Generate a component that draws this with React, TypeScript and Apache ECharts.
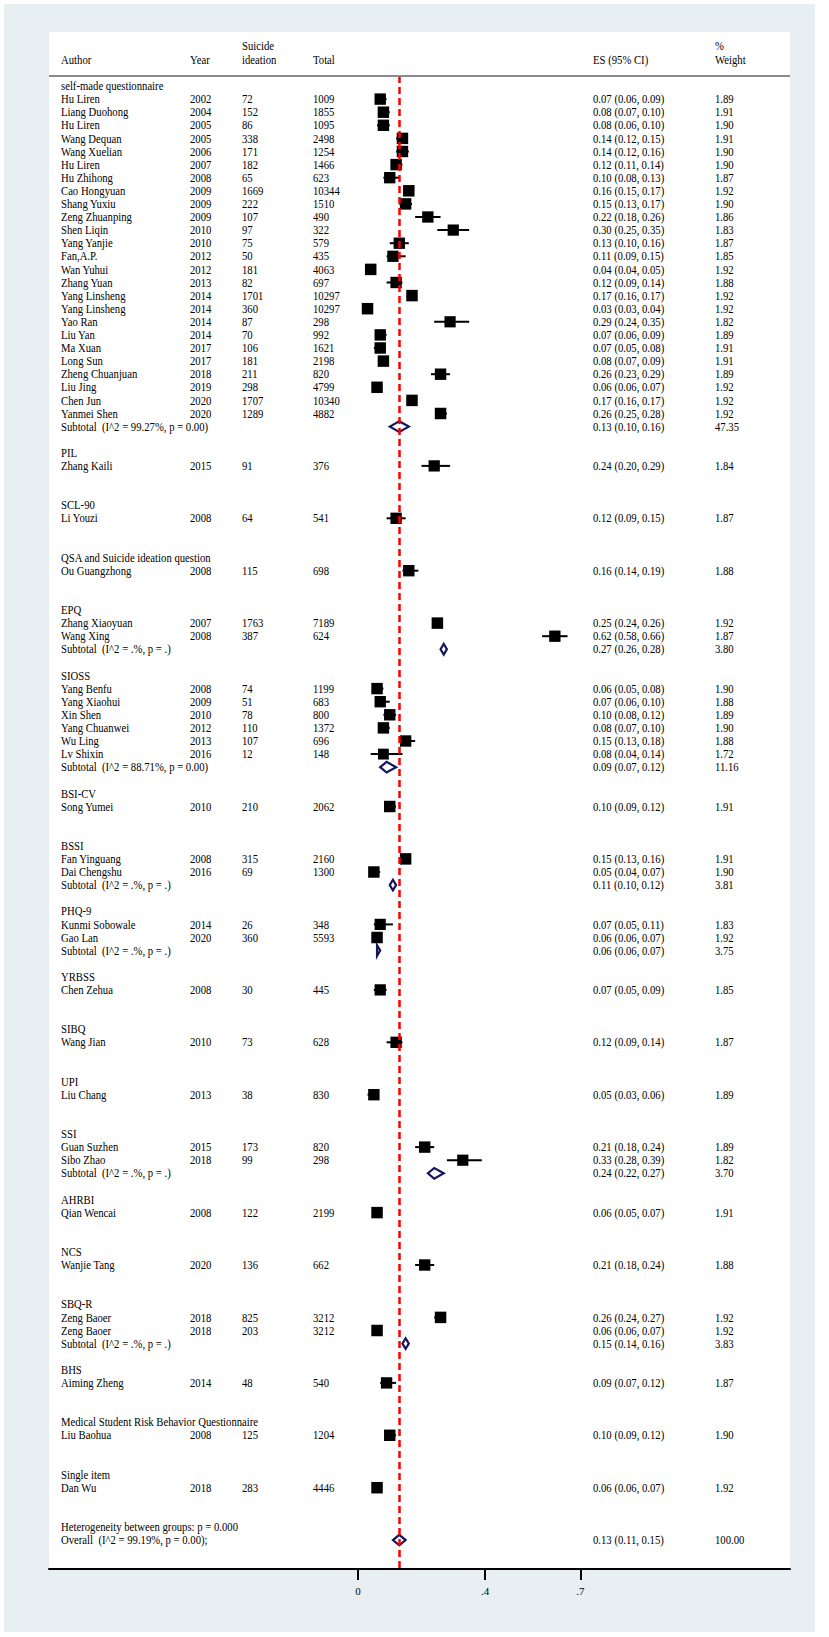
import React, { useEffect, useRef } from "react";
import * as echarts from "echarts";

const groupNames = [
  "self-made questionnaire", "PIL", "SCL-90", "QSA and Suicide ideation question", "EPQ", "SIOSS",
  "BSI-CV", "BSSI", "PHQ-9", "YRBSS", "SIBQ", "UPI", "SSI", "AHRBI", "NCS", "SBQ-R", "BHS",
  "Medical Student Risk Behavior Questionnaire", "Single item",
];

const studyGroup = [
  0, 0, 0, 0, 0, 0, 0, 0, 0, 0, 0, 0, 0, 0, 0, 0, 0, 0, 0, 0, 0, 0, 0, 0, 0,
  1, 2, 3, 4, 4, 5, 5, 5, 5, 5, 5, 6, 7, 7, 8, 8, 9, 10, 11, 12, 12, 13, 14, 15, 15, 16, 17, 18,
];

const authors = [
  "Hu Liren", "Liang Duohong", "Hu Liren", "Wang Dequan", "Wang Xuelian", "Hu Liren", "Hu Zhihong",
  "Cao Hongyuan", "Shang Yuxiu", "Zeng Zhuanping", "Shen Liqin", "Yang Yanjie", "Fan,A.P.", "Wan Yuhui",
  "Zhang Yuan", "Yang Linsheng", "Yang Linsheng", "Yao Ran", "Liu Yan", "Ma Xuan", "Long Sun",
  "Zheng Chuanjuan", "Liu Jing", "Chen Jun", "Yanmei Shen",
  "Zhang Kaili", "Li Youzi", "Ou Guangzhong", "Zhang Xiaoyuan", "Wang Xing",
  "Yang Benfu", "Yang Xiaohui", "Xin Shen", "Yang Chuanwei", "Wu Ling", "Lv Shixin",
  "Song Yumei", "Fan Yinguang", "Dai Chengshu", "Kunmi Sobowale", "Gao Lan", "Chen Zehua", "Wang Jian",
  "Liu Chang", "Guan Suzhen", "Sibo Zhao", "Qian Wencai", "Wanjie Tang", "Zeng Baoer", "Zeng Baoer",
  "Aiming Zheng", "Liu Baohua", "Dan Wu",
];

const years = [
  2002, 2004, 2005, 2005, 2006, 2007, 2008, 2009, 2009, 2009, 2010, 2010, 2012, 2012, 2013, 2014, 2014,
  2014, 2014, 2017, 2017, 2018, 2019, 2020, 2020,
  2015, 2008, 2008, 2007, 2008,
  2008, 2009, 2010, 2012, 2013, 2016,
  2010, 2008, 2016, 2014, 2020, 2008, 2010, 2013, 2015, 2018, 2008, 2020, 2018, 2018, 2014, 2008, 2018,
];

const cases = [
  72, 152, 86, 338, 171, 182, 65, 1669, 222, 107, 97, 75, 50, 181, 82, 1701, 360, 87, 70, 106, 181, 211,
  298, 1707, 1289,
  91, 64, 115, 1763, 387,
  74, 51, 78, 110, 107, 12,
  210, 315, 69, 26, 360, 30, 73, 38, 173, 99, 122, 136, 825, 203, 48, 125, 283,
];

const totals = [
  1009, 1855, 1095, 2498, 1254, 1466, 623, 10344, 1510, 490, 322, 579, 435, 4063, 697, 10297, 10297, 298,
  992, 1621, 2198, 820, 4799, 10340, 4882,
  376, 541, 698, 7189, 624,
  1199, 683, 800, 1372, 696, 148,
  2062, 2160, 1300, 348, 5593, 445, 628, 830, 820, 298, 2199, 662, 3212, 3212, 540, 1204, 4446,
];

const es = [
  0.07, 0.08, 0.08, 0.14, 0.14, 0.12, 0.10, 0.16, 0.15, 0.22, 0.30, 0.13, 0.11, 0.04, 0.12, 0.17, 0.03,
  0.29, 0.07, 0.07, 0.08, 0.26, 0.06, 0.17, 0.26,
  0.24, 0.12, 0.16, 0.25, 0.62,
  0.06, 0.07, 0.10, 0.08, 0.15, 0.08,
  0.10, 0.15, 0.05, 0.07, 0.06, 0.07, 0.12, 0.05, 0.21, 0.33, 0.06, 0.21, 0.26, 0.06, 0.09, 0.10, 0.06,
];

const lo = [
  0.06, 0.07, 0.06, 0.12, 0.12, 0.11, 0.08, 0.15, 0.13, 0.18, 0.25, 0.10, 0.09, 0.04, 0.09, 0.16, 0.03,
  0.24, 0.06, 0.05, 0.07, 0.23, 0.06, 0.16, 0.25,
  0.20, 0.09, 0.14, 0.24, 0.58,
  0.05, 0.06, 0.08, 0.07, 0.13, 0.04,
  0.09, 0.13, 0.04, 0.05, 0.06, 0.05, 0.09, 0.03, 0.18, 0.28, 0.05, 0.18, 0.24, 0.06, 0.07, 0.09, 0.06,
];

const hi = [
  0.09, 0.10, 0.10, 0.15, 0.16, 0.14, 0.13, 0.17, 0.17, 0.26, 0.35, 0.16, 0.15, 0.05, 0.14, 0.17, 0.04,
  0.35, 0.09, 0.08, 0.09, 0.29, 0.07, 0.17, 0.28,
  0.29, 0.15, 0.19, 0.26, 0.66,
  0.08, 0.10, 0.12, 0.10, 0.18, 0.14,
  0.12, 0.16, 0.07, 0.11, 0.07, 0.09, 0.14, 0.06, 0.24, 0.39, 0.07, 0.24, 0.27, 0.07, 0.12, 0.12, 0.07,
];

const weights = [
  1.89, 1.91, 1.90, 1.91, 1.90, 1.90, 1.87, 1.92, 1.90, 1.86, 1.83, 1.87, 1.85, 1.92, 1.88, 1.92, 1.92,
  1.82, 1.89, 1.91, 1.91, 1.89, 1.92, 1.92, 1.92,
  1.84, 1.87, 1.88, 1.92, 1.87,
  1.90, 1.88, 1.89, 1.90, 1.88, 1.72,
  1.91, 1.91, 1.90, 1.83, 1.92, 1.85, 1.87, 1.89, 1.89, 1.82, 1.91, 1.88, 1.92, 1.92, 1.87, 1.90, 1.92,
];

const subGroups = [0, 4, 5, 7, 8, 12, 15];
const subHet = ["99.27%, p = 0.00", ".%, p = .", "88.71%, p = 0.00", ".%, p = .", ".%, p = .", ".%, p = .", ".%, p = ."];
const subES = [0.13, 0.27, 0.09, 0.11, 0.06, 0.24, 0.15];
const subLo = [0.10, 0.26, 0.07, 0.10, 0.06, 0.22, 0.14];
const subHi = [0.16, 0.28, 0.12, 0.12, 0.07, 0.27, 0.16];
const subW = [47.35, 3.80, 11.16, 3.81, 3.75, 3.70, 3.83];

const overallES = 0.13;
const overallLo = 0.11;
const overallHi = 0.15;
const overallW = 100.0;
const overallLabel = "Overall  (I^2 = 99.19%, p = 0.00);";
const hetLabel = "Heterogeneity between groups: p = 0.000";

const tickValues = [0, 0.4, 0.7];
const tickLabels = ["0", ".4", ".7"];

const headerTop = ["", "", "Suicide", "", "", "%"];
const headerBottom = ["Author", "Year", "ideation", "Total", "ES (95% CI)", "Weight"];

const FONT = '"Liberation Serif", "Times New Roman", serif';
const FS = 10.7;
const SY = 1.08;
const COLX = [61, 190, 242, 313, 593, 715];

const fmtCI = (e: number, l: number, h: number) => `${e.toFixed(2)} (${l.toFixed(2)}, ${h.toFixed(2)})`;

export default function App() {
  const ref = useRef<HTMLDivElement>(null);

  useEffect(() => {
    const chart = echarts.init(ref.current!, null, { renderer: "svg" });

    const textRows: { row: number; cols: (string | null)[] }[] = [];
    const studyPts: number[][] = [];
    const ciPts: number[][] = [];
    const diamonds: number[][] = [];
    let r = 0;
    groupNames.forEach((g, gi) => {
      textRows.push({ row: r, cols: [g] });
      r++;
      studyGroup.forEach((sg, i) => {
        if (sg !== gi) return;
        textRows.push({
          row: r,
          cols: [authors[i], String(years[i]), String(cases[i]), String(totals[i]), fmtCI(es[i], lo[i], hi[i]), weights[i].toFixed(2)],
        });
        studyPts.push([es[i], r, weights[i]]);
        ciPts.push([lo[i], hi[i], r]);
        r++;
      });
      const si = subGroups.indexOf(gi);
      if (si >= 0) {
        textRows.push({
          row: r,
          cols: [`Subtotal  (I^2 = ${subHet[si]})`, null, null, null, fmtCI(subES[si], subLo[si], subHi[si]), subW[si].toFixed(2)],
        });
        diamonds.push([subES[si], subLo[si], subHi[si], r]);
      }
      r += 2;
    });
    textRows.push({ row: r, cols: [hetLabel] });
    r++;
    textRows.push({ row: r, cols: [overallLabel, null, null, null, fmtCI(overallES, overallLo, overallHi), overallW.toFixed(2)] });
    diamonds.push([overallES, overallLo, overallHi, r]);

    const txtStyle = (t: string) => ({ text: t, fill: "#000", fontSize: FS, fontFamily: FONT, verticalAlign: "middle", align: "left" });

    const headerEls: any[] = [];
    headerTop.forEach((t, k) => {
      if (t) headerEls.push({ type: "text", x: COLX[k], y: 46, scaleY: SY, z: 10, style: txtStyle(t) });
    });
    headerBottom.forEach((t, k) => {
      headerEls.push({ type: "text", x: COLX[k], y: 60, scaleY: SY, z: 10, style: txtStyle(t) });
    });

    const option: any = {
      animation: false,
      backgroundColor: "#ffffff",
      graphic: {
        elements: [
          { type: "rect", z: -10, shape: { x: 4, y: 4, width: 811, height: 1628 }, style: { fill: "#e8eff2" } },
          { type: "rect", z: -9, shape: { x: 49, y: 32, width: 741, height: 1537 }, style: { fill: "#ffffff" } },
          { type: "line", z: 10, shape: { x1: 49, y1: 76, x2: 790, y2: 76 }, style: { stroke: "#8a8a8a", lineWidth: 2 } },
          ...headerEls,
        ],
      },
      grid: { left: 49, right: 39, top: 76, bottom: 68, containLabel: false },
      xAxis: {
        type: "value",
        min: -0.9732,
        max: 1.3606,
        splitLine: { show: false },
        axisLine: { show: true, onZero: false, lineStyle: { color: "#000", width: 2 } },
        axisTick: { show: true, customValues: tickValues, length: 11, lineStyle: { color: "#000", width: 2 } },
        axisLabel: {
          show: true,
          customValues: tickValues,
          formatter: (v: number) => tickLabels[tickValues.indexOf(v)] ?? "",
          color: "#000",
          fontSize: 11,
          fontFamily: FONT,
          margin: 16,
        },
      },
      yAxis: { type: "value", show: false, inverse: true, min: -0.763, max: 113.206 },
      series: [
        {
          type: "custom",
          name: "ci",
          z: 2,
          data: ciPts,
          renderItem: (params: any, api: any) => {
            const row = api.value(2);
            const p1 = api.coord([api.value(0), row]);
            const p2 = api.coord([api.value(1), row]);
            return { type: "line", shape: { x1: p1[0], y1: p1[1], x2: p2[0], y2: p2[1] }, style: { stroke: "#000", lineWidth: 2 } };
          },
          markLine: {
            silent: true,
            symbol: "none",
            label: { show: false },
            lineStyle: { color: "#ff0000", type: [7, 4], width: 2.5 },
            data: [{ xAxis: overallES }],
          },
        },
        {
          type: "scatter",
          name: "studies",
          z: 3,
          symbol: "rect",
          symbolSize: (v: number[]) => 11.5 * Math.sqrt(v[2] / 1.92),
          itemStyle: { color: "#000", opacity: 1 },
          data: studyPts,
        },
        {
          type: "custom",
          name: "diamonds",
          z: 4,
          data: diamonds,
          renderItem: (params: any, api: any) => {
            const row = api.value(3);
            const c = api.coord([api.value(0), row]);
            const l = api.coord([api.value(1), row]);
            const h = api.coord([api.value(2), row]);
            const hh = 5.3;
            return {
              type: "polygon",
              shape: { points: [[l[0], c[1]], [c[0], c[1] - hh], [h[0], c[1]], [c[0], c[1] + hh]] },
              style: { fill: "none", stroke: "#15155e", lineWidth: 2.2 },
            };
          },
        },
        {
          type: "custom",
          name: "texts",
          z: 5,
          data: textRows.map((t) => [0, t.row]),
          renderItem: (params: any, api: any) => {
            const t = textRows[params.dataIndex];
            const y = api.coord([0, api.value(1)])[1];
            const children: any[] = [];
            t.cols.forEach((s, k) => {
              if (s === null || s === undefined) return;
              children.push({ type: "text", x: COLX[k], y, scaleY: SY, style: txtStyle(s) });
            });
            return { type: "group", children };
          },
        },
      ],
    };

    chart.setOption(option);
    return () => chart.dispose();
  }, []);

  return <div ref={ref} style={{ position: "absolute", left: 0, top: 0, width: 829, height: 1637 }} />;
}
